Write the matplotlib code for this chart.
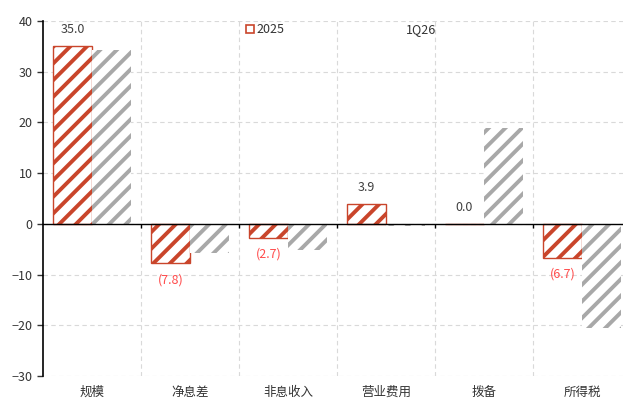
import matplotlib
matplotlib.use("Agg")
import matplotlib.pyplot as plt
from matplotlib.patches import Patch

plt.rcParams['font.family'] = ['Noto Sans CJK SC', 'DejaVu Sans']
plt.rcParams['hatch.linewidth'] = 2.8

# data
categories = ["规模", "净息差", "非息收入", "营业费用", "拨备", "所得税"]
fy2025 = [35.0, -7.8, -2.7, 3.9, 0.0, -6.7]
q1_26 = [34.3, -5.7, -5.2, -0.5, 18.9, -20.5]
series_names = ["2025", "1Q26"]

red = "#C9452B"
gray = "#A8A8A8"

fig = plt.figure(figsize=(6.23, 4.01), dpi=100)
ax = fig.add_axes([0.069, 0.0623, 0.931, 0.8857])

x = list(range(len(categories)))
w = 0.4
ax.bar([i - w / 2 for i in x], fy2025, w, facecolor="white", edgecolor=red,
       hatch="//", linewidth=1.0, zorder=3)
ax.bar([i + w / 2 for i in x], q1_26, w, facecolor="white", edgecolor=gray,
       hatch="//", linewidth=0, zorder=3)

# value labels for 2025
for i, v in enumerate(fy2025):
    if v >= 0:
        ax.annotate("%.1f" % v, (i - w / 2, v), xytext=(0, 12), textcoords="offset points",
                    ha="center", va="center", fontsize=9, color="#404040")
    else:
        ax.annotate("(%.1f)" % abs(v), (i - w / 2, v), xytext=(0, -12), textcoords="offset points",
                    ha="center", va="center", fontsize=9, color="#FF4B4B")

ax.set_xlim(-0.5, 5.418)
ax.set_ylim(-30, 40)
ax.set_yticks(range(-30, 41, 10))
ax.tick_params(axis="y", labelsize=9, colors="#333333", length=4, width=1)

# zero line as bottom spine, with ticks at category boundaries
ax.spines["bottom"].set_position(("data", 0))
ax.spines["bottom"].set_linewidth(1)
ax.spines["bottom"].set_zorder(4)
ax.set_xticks([i + 0.5 for i in x[:-1]])
ax.set_xticklabels([])
ax.tick_params(axis="x", length=3, direction="out", width=1)
for s in ["top", "right"]:
    ax.spines[s].set_visible(False)
ax.spines["left"].set_linewidth(1.2)

sec = ax.secondary_xaxis(0)
sec.set_xticks(x)
sec.set_xticklabels(categories, fontsize=9, color="#333333")
sec.tick_params(length=0, pad=7)
sec.spines["bottom"].set_visible(False)

ax.grid(True, axis="both", linestyle=(0, (4, 3)), color="#D9D9D9", linewidth=0.8, zorder=0)
ax.set_axisbelow(True)

handles = [Patch(facecolor="white", edgecolor=red, linewidth=1.2),
           Patch(facecolor="white", edgecolor="none", linewidth=0)]
ax.legend(handles, series_names, ncol=2, loc="upper left", bbox_to_anchor=(0.331, 1.025),
          frameon=False, fontsize=9, handlelength=0.6, handleheight=0.6,
          handletextpad=0.2, columnspacing=8.9, labelcolor="#333333")

fig.savefig("out.png", dpi=100)
